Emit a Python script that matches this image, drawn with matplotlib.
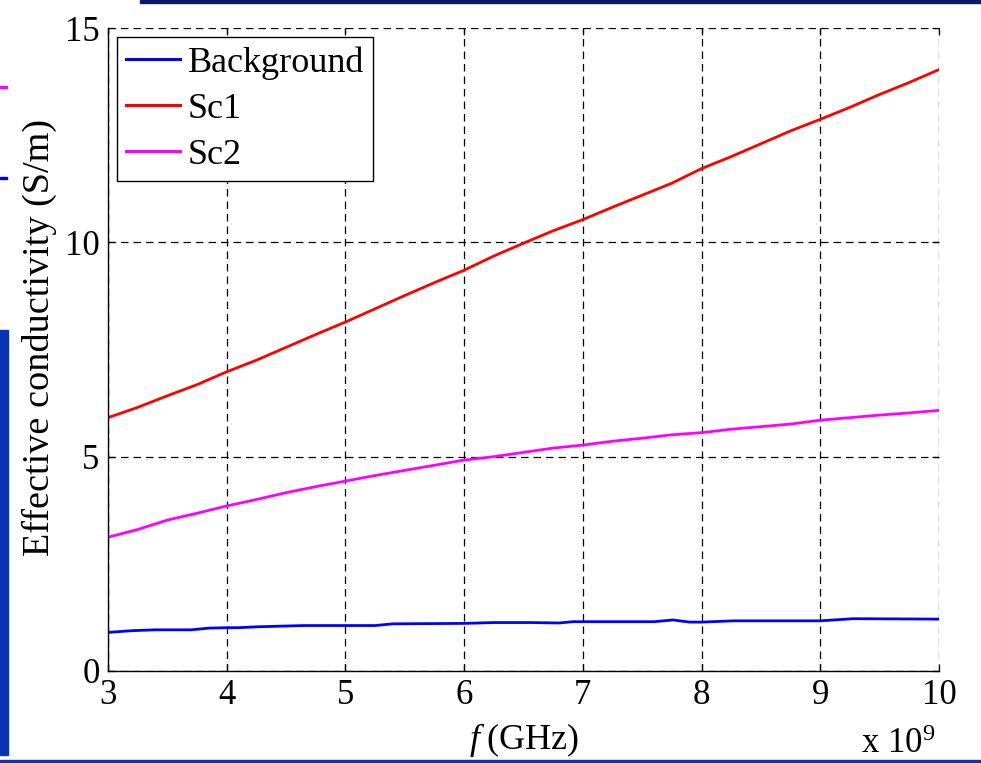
# -*- coding: utf-8 -*-
"""Effective conductivity vs frequency (Background / Sc1 / Sc2)."""
import numpy as np
import matplotlib
matplotlib.use("Agg")
import matplotlib.pyplot as plt
from matplotlib.ticker import FuncFormatter
from matplotlib.patches import Rectangle

plt.rcParams["font.family"] = ["Liberation Serif", "DejaVu Serif"]
plt.rcParams["mathtext.fontset"] = "custom"
plt.rcParams["mathtext.rm"] = "Liberation Serif"
plt.rcParams["mathtext.it"] = "Liberation Serif:italic"

# --- data -------------------------------------------------------------------
freq_sc_ghz = [3.0, 3.25, 3.5, 3.75, 4.0, 4.25, 4.5, 4.75, 5.0, 5.25, 5.5, 5.75,
               6.0, 6.25, 6.5, 6.75, 7.0, 7.25, 7.5, 7.75, 8.0, 8.25, 8.5, 8.75,
               9.0, 9.25, 9.5, 9.75, 10.0]
sc1 = [5.91, 6.15, 6.42, 6.68, 6.98, 7.25, 7.55, 7.85, 8.14, 8.45, 8.76, 9.06,
       9.35, 9.68, 9.98, 10.27, 10.53, 10.82, 11.10, 11.38, 11.72, 12.00, 12.30, 12.60,
       12.87, 13.15, 13.45, 13.73, 14.03]
sc2 = [3.12, 3.30, 3.52, 3.68, 3.85, 4.00, 4.16, 4.30, 4.43, 4.56, 4.68, 4.80,
       4.92, 5.00, 5.10, 5.20, 5.27, 5.36, 5.43, 5.51, 5.56, 5.64, 5.70, 5.76,
       5.85, 5.91, 5.97, 6.02, 6.08]

freq_bg_ghz = [3.0, 3.2, 3.4, 3.7, 3.85, 4.0, 4.1, 4.25, 4.65, 5.0, 5.25, 5.4,
               6.0, 6.25, 6.55, 6.8, 6.92, 7.0, 7.6, 7.76, 7.9, 8.0, 8.27, 9.0,
               9.28, 10.0]
background = [0.90, 0.94, 0.96, 0.96, 1.00, 1.01, 1.01, 1.03, 1.06, 1.06, 1.06, 1.10,
              1.11, 1.13, 1.13, 1.12, 1.15, 1.15, 1.15, 1.19, 1.14, 1.14, 1.17, 1.17,
              1.22, 1.21]

series_names = ["Background", "Sc1", "Sc2"]
series_colors = ["#0000ff", "#ff0000", "#ff00ff"]

# --- figure -------------------------------------------------------------------
fig = plt.figure(figsize=(9.81, 7.63), dpi=100)
ax = fig.add_axes([0.1101, 0.1206, 0.8471, 0.8427])

f_bg = np.array(freq_bg_ghz) * 1e9
f_sc = np.array(freq_sc_ghz) * 1e9
ax.plot(f_bg, background, color=series_colors[0], lw=2.0, label=series_names[0])
ax.plot(f_sc, sc1, color=series_colors[1], lw=2.0, label=series_names[1])
ax.plot(f_sc, sc2, color=series_colors[2], lw=2.0, label=series_names[2])

ax.set_xlim(3e9, 10e9)
ax.set_ylim(0, 15)
ax.set_xticks(np.arange(3, 11) * 1e9)
ax.set_yticks([0, 5, 10, 15])
ax.xaxis.set_major_formatter(FuncFormatter(lambda v, p: f"{v / 1e9:g}"))

ax.grid(True, color="black", ls=(0, (6, 4)), lw=0.9)
ax.spines["top"].set_visible(False)
ax.spines["right"].set_visible(False)
for s in ["left", "bottom"]:
    ax.spines[s].set_linewidth(1.0)
ax.tick_params(direction="in", length=5, width=0.9, labelsize=25,
               top=True, right=True, pad=6)

ax.set_ylabel("Effective conductivity (S/m)", fontsize=27.5)
ax.yaxis.set_label_coords(-0.061, 0.519)
ax.set_xlabel(r"$f\;$(GHz)", fontsize=26, labelpad=6)
ax.text(0.995, -0.114, r"x 10$^9$", transform=ax.transAxes, ha="right",
        va="center", fontsize=25)

leg = ax.legend(loc="upper left", fontsize=26, frameon=True, fancybox=False,
                edgecolor="black", framealpha=1, borderpad=0.25,
                handlelength=1.5, handletextpad=0.2, labelspacing=0.36,
                borderaxespad=0.25)
leg.get_frame().set_linewidth(1.0)
for h in leg.get_lines():
    h.set_linewidth(2.2)

# slide background remnants around the crop
fig.patches.append(Rectangle((140 / 981, 1 - 3 / 763), 1, 3 / 763,
                             transform=fig.transFigure, color="#0a1a66"))
fig.patches.append(Rectangle((0, 8 / 763), 8 / 981, 425 / 763,
                             transform=fig.transFigure, color="#0a32b4"))
fig.patches.append(Rectangle((0, 0), 1, 3 / 763,
                             transform=fig.transFigure, color="#0a32b4"))
fig.patches.append(Rectangle((0, 1 - 88 / 763), 7 / 981, 2.5 / 763,
                             transform=fig.transFigure, color="#ff00ff"))
fig.patches.append(Rectangle((0, 1 - 179 / 763), 7 / 981, 2.5 / 763,
                             transform=fig.transFigure, color="#0000ff"))

fig.savefig("out.png", dpi=100)
plt.close(fig)
